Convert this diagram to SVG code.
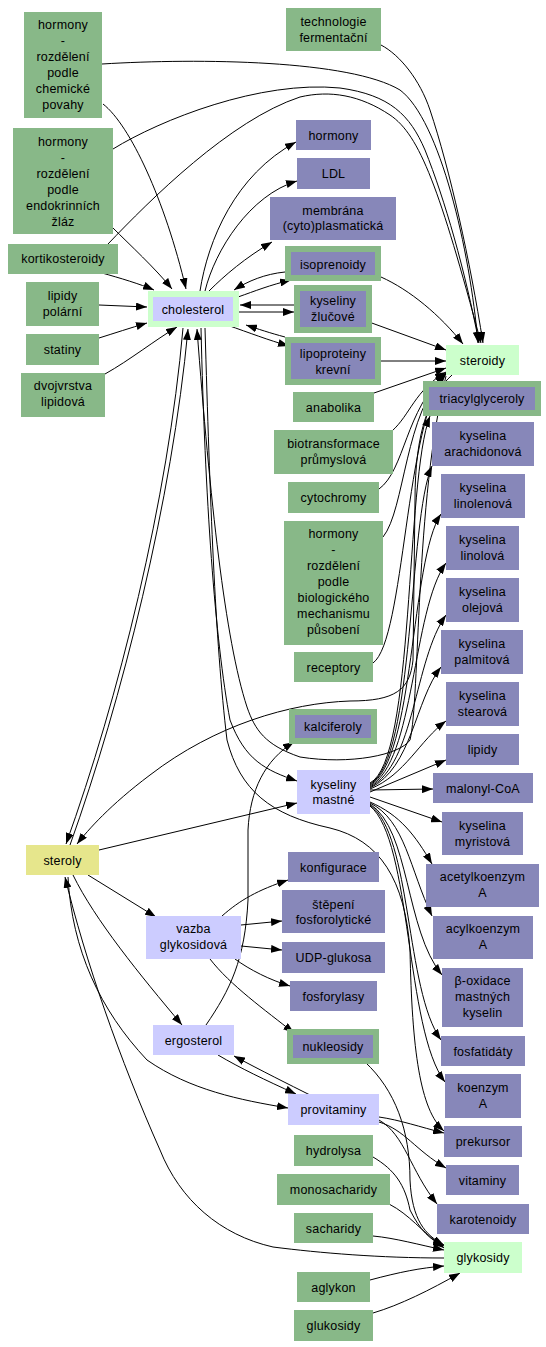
<svg xmlns="http://www.w3.org/2000/svg" width="546" height="1347" viewBox="0 0 546 1347">
<style>
text{font-family:"Liberation Sans",Arial,sans-serif;font-size:12.5px;letter-spacing:0.2px;fill:#000;text-anchor:middle}
.g{fill:#88b888}.p{fill:#8787b9}.l{fill:#ccccff}.c{fill:#ccffcc}.y{fill:#e6e68c}
#edges path{fill:none;stroke:#000;stroke-width:1;marker-end:url(#a)}
</style>
<defs><marker id="a" markerWidth="11" markerHeight="8" refX="11" refY="4" orient="auto" markerUnits="userSpaceOnUse"><path d="M0,0L11,4L0,8z" fill="#000"/></marker></defs>
<rect width="546" height="1347" fill="#fff"/>
<g id="edges">
<path d="M103,104C130,125 165,200 186,289"/>
<path d="M113,228C130,245 155,268 172,289"/>
<path d="M102,273C120,278 140,284 154,290"/>
<path d="M99,305L147,307"/>
<path d="M99,338C115,333 130,328 147,323"/>
<path d="M105,374C130,360 155,340 177,327"/>
<path d="M102,64C200,58 350,60 400,90C440,120 470,250 478,343"/>
<path d="M113,149C160,120 260,80 340,88C390,95 410,115 425,150C445,200 465,270 479,343"/>
<path d="M108,244C150,200 230,120 300,97C330,90 360,95 390,115C420,135 440,190 481,343"/>
<path d="M381,45C400,55 420,80 430,110C450,170 470,260 483,343"/>
<path d="M200,291C208,240 235,175 296,142"/>
<path d="M205,291C215,250 250,195 297,181"/>
<path d="M209,291C225,275 245,258 272,242"/>
<path d="M238,297C255,291 270,285 291,280"/>
<path d="M285,272C265,274 248,281 234,290"/>
<path d="M294,305L240,305"/>
<path d="M239,312L294,312"/>
<path d="M285,337C270,333 258,329 246,325"/>
<path d="M227,325C250,333 268,340 289,346"/>
<path d="M381,277C410,290 440,315 463,344"/>
<path d="M369,322L446,350"/>
<path d="M375,361L446,361"/>
<path d="M374,393L446,368"/>
<path d="M392,431C410,415 415,390 446,372"/>
<path d="M379,489C405,470 405,410 446,373"/>
<path d="M383,537C405,510 405,410 446,374"/>
<path d="M373,663C405,640 405,420 446,374"/>
<path d="M452,375C430,395 415,430 415,500L413,660C410,690 395,701 350,701C290,703 215,725 150,775C110,805 88,830 77,844"/>
<path d="M183,328C168,500 118,700 66,844"/>
<path d="M70,845C122,700 172,500 188,329"/>
<path d="M370,783C415,760 405,480 430,416"/>
<path d="M370,784C415,760 408,520 432,466"/>
<path d="M370,785C415,760 410,560 441,514"/>
<path d="M370,786C415,762 412,610 446,563"/>
<path d="M370,787C415,764 414,660 446,615"/>
<path d="M370,788C412,768 415,700 441,667"/>
<path d="M370,789C405,775 420,740 446,721"/>
<path d="M370,792L446,760"/>
<path d="M370,790L433,789"/>
<path d="M370,797L442,822"/>
<path d="M370,802C400,815 415,835 432,864"/>
<path d="M370,803C405,820 410,870 432,916"/>
<path d="M370,804C410,830 405,930 442,975"/>
<path d="M370,805C412,835 405,990 441,1040"/>
<path d="M370,806C412,840 405,1030 445,1082"/>
<path d="M201,328C205,500 215,640 230,720C245,760 265,770 297,781"/>
<path d="M446,376C415,500 420,700 410,740C400,755 350,765 300,757C265,745 255,730 247,707C225,640 210,500 197,329"/>
<path d="M205,328C210,500 215,640 227,740C240,790 270,815 330,828C380,840 405,880 410,950C412,1050 420,1110 444,1131"/>
<path d="M99,850L297,803"/>
<path d="M88,875L156,917"/>
<path d="M73,875C95,920 140,975 182,1025"/>
<path d="M68,877C72,950 100,1010 147,1060C190,1090 240,1100 288,1108"/>
<path d="M444,1258C380,1258 320,1253 273,1247C220,1235 180,1200 160,1150C120,1060 85,960 65,877"/>
<path d="M222,916C240,900 258,890 288,880"/>
<path d="M241,925L282,921"/>
<path d="M241,946L282,950"/>
<path d="M235,959C250,970 270,980 290,986"/>
<path d="M210,959C230,985 265,1010 294,1033"/>
<path d="M206,1025C230,990 245,960 248,900L248,830C250,790 265,760 294,742"/>
<path d="M310,1095C290,1085 260,1070 234,1056"/>
<path d="M218,1055C240,1068 265,1080 296,1094"/>
<path d="M379,1117C400,1120 420,1127 444,1133"/>
<path d="M379,1122C405,1130 415,1150 446,1168"/>
<path d="M379,1120C405,1135 410,1170 437,1204"/>
<path d="M365,1062C395,1090 410,1130 410,1180C412,1220 425,1235 444,1245"/>
<path d="M373,1157C395,1170 405,1185 410,1210C420,1230 430,1240 444,1246"/>
<path d="M389,1204C410,1215 420,1230 444,1248"/>
<path d="M373,1236C395,1238 420,1245 444,1250"/>
<path d="M370,1280C400,1272 420,1268 444,1266"/>
<path d="M373,1313C400,1305 430,1290 460,1273"/>
</g>
<g id="n1"><rect class="g" x="24" y="12" width="78" height="106"/><text x="63" y="28.5">hormony</text><text x="63" y="44.5">-</text><text x="63" y="60.5">rozdělení</text><text x="63" y="76.5">podle</text><text x="63" y="92.5">chemické</text><text x="63" y="108.5">povahy</text></g>
<g id="n2"><rect class="g" x="13" y="128" width="100" height="106"/><text x="63" y="145.5">hormony</text><text x="63" y="161.5">-</text><text x="63" y="177.5">rozdělení</text><text x="63" y="193.5">podle</text><text x="63" y="209.5">endokrinních</text><text x="63" y="225.5">žláz</text></g>
<g id="n3"><rect class="g" x="8" y="244" width="110" height="30"/><text x="63" y="263">kortikosteroidy</text></g>
<g id="n4"><rect class="g" x="26" y="282" width="73" height="44"/><text x="62.5" y="300">lipidy</text><text x="62.5" y="316">polární</text></g>
<g id="n5"><rect class="g" x="26" y="334" width="73" height="31"/><text x="62.5" y="354">statiny</text></g>
<g id="n6"><rect class="g" x="21" y="373" width="84" height="44"/><text x="63" y="390">dvojvrstva</text><text x="63" y="406">lipidová</text></g>
<g id="n7"><rect class="c" x="148" y="291" width="91" height="36"/><rect class="l" x="153" y="297" width="80" height="24"/><text x="193" y="313.5">cholesterol</text></g>
<g id="n8"><rect class="g" x="286" y="8" width="95" height="43"/><text x="333.5" y="26">technologie</text><text x="333.5" y="42">fermentační</text></g>
<g id="n9"><rect class="p" x="296" y="120" width="75" height="30"/><text x="333.5" y="139.5">hormony</text></g>
<g id="n10"><rect class="p" x="297" y="158" width="73" height="31"/><text x="333.5" y="178">LDL</text></g>
<g id="n11"><rect class="p" x="270" y="197" width="126" height="43"/><text x="333" y="214.5">membrána</text><text x="333" y="230">(cyto)plasmatická</text></g>
<g id="n12"><rect class="g" x="285" y="246" width="96" height="35"/><rect class="p" x="291" y="252" width="84" height="23"/><text x="333" y="268.5">isoprenoidy</text></g>
<g id="n13"><rect class="g" x="294" y="285" width="78" height="48"/><rect class="p" x="300" y="291" width="66" height="36"/><text x="333" y="305">kyseliny</text><text x="333" y="321">žlučové</text></g>
<g id="n14"><rect class="g" x="285" y="337" width="96" height="48"/><rect class="p" x="291" y="343" width="84" height="36"/><text x="333" y="357.5">lipoproteiny</text><text x="333" y="373.5">krevní</text></g>
<g id="n15"><rect class="c" x="446" y="345" width="73" height="30"/><text x="482.5" y="364.5">steroidy</text></g>
<g id="n16"><rect class="g" x="293" y="392" width="81" height="30"/><text x="333.5" y="411.5">anabolika</text></g>
<g id="n17"><rect class="g" x="423" y="381" width="118" height="35"/><rect class="p" x="429" y="387" width="106" height="23"/><text x="482" y="403">triacylglyceroly</text></g>
<g id="n18"><rect class="p" x="432" y="422" width="102" height="44"/><text x="483" y="439.5">kyselina</text><text x="483" y="456">arachidonová</text></g>
<g id="n19"><rect class="g" x="274" y="430" width="119" height="44"/><text x="333.5" y="447.5">biotransformace</text><text x="333.5" y="463.5">průmyslová</text></g>
<g id="n20"><rect class="g" x="288" y="482" width="91" height="31"/><text x="333.5" y="502">cytochromy</text></g>
<g id="n21"><rect class="p" x="441" y="474" width="84" height="44"/><text x="483" y="491.5">kyselina</text><text x="483" y="507.5">linolenová</text></g>
<g id="n22"><rect class="g" x="284" y="521" width="99" height="124"/><text x="333.5" y="538">hormony</text><text x="333.5" y="554">-</text><text x="333.5" y="570">rozdělení</text><text x="333.5" y="586">podle</text><text x="333.5" y="602">biologického</text><text x="333.5" y="618">mechanismu</text><text x="333.5" y="634">působení</text></g>
<g id="n23"><rect class="p" x="446" y="526" width="73" height="44"/><text x="482.5" y="544">kyselina</text><text x="482.5" y="560">linolová</text></g>
<g id="n24"><rect class="p" x="446" y="578" width="73" height="44"/><text x="482.5" y="596">kyselina</text><text x="482.5" y="612">olejová</text></g>
<g id="n25"><rect class="p" x="441" y="630" width="82" height="44"/><text x="482" y="648">kyselina</text><text x="482" y="664">palmitová</text></g>
<g id="n26"><rect class="g" x="294" y="652" width="79" height="30"/><text x="333.5" y="672">receptory</text></g>
<g id="n27"><rect class="p" x="446" y="682" width="73" height="44"/><text x="482.5" y="699.5">kyselina</text><text x="482.5" y="715.5">stearová</text></g>
<g id="n28"><rect class="g" x="289" y="709" width="88" height="35"/><rect class="p" x="295" y="715" width="76" height="23"/><text x="333" y="731">kalciferoly</text></g>
<g id="n29"><rect class="p" x="446" y="734" width="73" height="31"/><text x="482.5" y="754">lipidy</text></g>
<g id="n30"><rect class="l" x="297" y="770" width="73" height="44"/><text x="333.5" y="788.5">kyseliny</text><text x="333.5" y="804">mastné</text></g>
<g id="n31"><rect class="p" x="433" y="773" width="100" height="30"/><text x="483" y="792.5">malonyl-CoA</text></g>
<g id="n32"><rect class="p" x="442" y="812" width="81" height="43"/><text x="482.5" y="829.5">kyselina</text><text x="482.5" y="845.5">myristová</text></g>
<g id="n33"><rect class="p" x="288" y="852" width="91" height="30"/><text x="333.5" y="871.5">konfigurace</text></g>
<g id="n34"><rect class="p" x="426" y="864" width="113" height="43"/><text x="482.5" y="881">acetylkoenzym</text><text x="482.5" y="896.5">A</text></g>
<g id="n35"><rect class="p" x="282" y="890" width="103" height="43"/><text x="333.5" y="908.5">štěpení</text><text x="333.5" y="924">fosforolytické</text></g>
<g id="n36"><rect class="p" x="433" y="916" width="100" height="43"/><text x="483" y="933">acylkoenzym</text><text x="483" y="948.5">A</text></g>
<g id="n37"><rect class="p" x="282" y="942" width="103" height="31"/><text x="333.5" y="962">UDP-glukosa</text></g>
<g id="n38"><rect class="p" x="442" y="968" width="81" height="59"/><text x="482.5" y="985">β-oxidace</text><text x="482.5" y="1001">mastných</text><text x="482.5" y="1017">kyselin</text></g>
<g id="n39"><rect class="p" x="290" y="981" width="87" height="30"/><text x="333.5" y="1000.5">fosforylasy</text></g>
<g id="n40"><rect class="g" x="287" y="1029" width="92" height="35"/><rect class="p" x="293" y="1035" width="80" height="23"/><text x="333" y="1051">nukleosidy</text></g>
<g id="n41"><rect class="p" x="441" y="1036" width="84" height="30"/><text x="483" y="1055.5">fosfatidáty</text></g>
<g id="n42"><rect class="p" x="445" y="1074" width="76" height="44"/><text x="483" y="1092">koenzym</text><text x="483" y="1108">A</text></g>
<g id="n43"><rect class="l" x="288" y="1094" width="91" height="31"/><text x="333.5" y="1114">provitaminy</text></g>
<g id="n44"><rect class="p" x="444" y="1126" width="78" height="31"/><text x="483" y="1146">prekursor</text></g>
<g id="n45"><rect class="g" x="294" y="1135" width="79" height="31"/><text x="333.5" y="1155">hydrolysa</text></g>
<g id="n46"><rect class="p" x="446" y="1165" width="73" height="30"/><text x="482.5" y="1184.5">vitaminy</text></g>
<g id="n47"><rect class="g" x="277" y="1174" width="113" height="31"/><text x="333.5" y="1194">monosacharidy</text></g>
<g id="n48"><rect class="p" x="437" y="1204" width="92" height="30"/><text x="483" y="1223.5">karotenoidy</text></g>
<g id="n49"><rect class="g" x="294" y="1213" width="79" height="30"/><text x="333.5" y="1232.5">sacharidy</text></g>
<g id="n50"><rect class="c" x="444" y="1242" width="78" height="31"/><text x="483" y="1262">glykosidy</text></g>
<g id="n51"><rect class="g" x="297" y="1272" width="73" height="30"/><text x="333.5" y="1291.5">aglykon</text></g>
<g id="n52"><rect class="g" x="294" y="1310" width="79" height="31"/><text x="333.5" y="1330">glukosidy</text></g>
<g id="n53"><rect class="y" x="26" y="845" width="73" height="30"/><text x="62.5" y="864.5">steroly</text></g>
<g id="n54"><rect class="l" x="146" y="916" width="95" height="43"/><text x="193.5" y="932.5">vazba</text><text x="193.5" y="949">glykosidová</text></g>
<g id="n55"><rect class="l" x="153" y="1025" width="81" height="30"/><text x="193.5" y="1044.5">ergosterol</text></g>
</svg>
